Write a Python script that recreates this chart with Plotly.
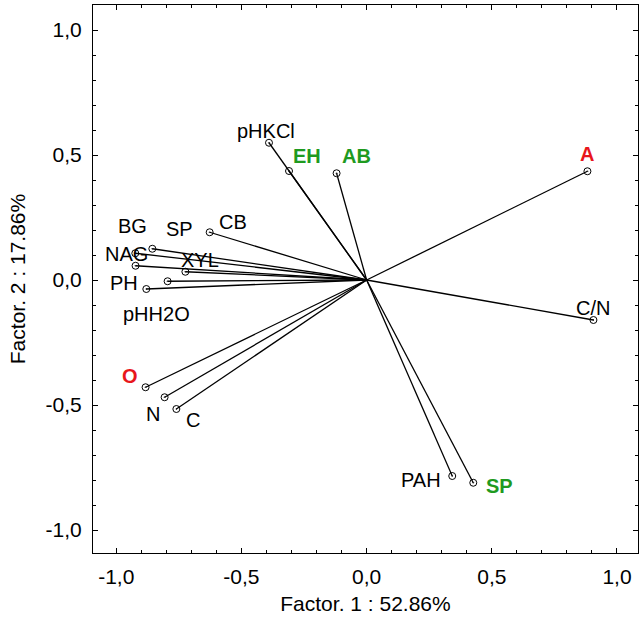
import plotly.graph_objects as go

# factor loadings
names = ["pHKCl", "EH", "AB", "CB", "SP", "BG", "NAG", "XYL", "PH", "pHH2O",
         "O", "N", "C", "A", "C/N", "PAH", "SP "]
factor1 = [-0.390, -0.310, -0.120, -0.627, -0.856, -0.924, -0.923, -0.724, -0.795, -0.880,
           -0.883, -0.807, -0.760, 0.882, 0.906, 0.342, 0.426]
factor2 = [0.549, 0.436, 0.427, 0.191, 0.125, 0.107, 0.057, 0.033, -0.005, -0.036,
           -0.429, -0.469, -0.516, 0.435, -0.160, -0.784, -0.811]
groups = ["var", "soil", "soil", "var", "var", "var", "var", "var", "var", "var",
          "hor", "var", "var", "hor", "var", "var", "soil"]

tick_vals = [-1.0, -0.5, 0.0, 0.5, 1.0]
tick_text = ["-1,0", "-0,5", "0,0", "0,5", "1,0"]

# label offsets in pixels (dx right, dy down) and colours
label_offsets = {
    "pHKCl": (-3, -12), "EH": (18, -15), "AB": (20, -17), "CB": (23, -10),
    "SP": (27, -20), "BG": (-3, -27), "NAG": (-9, -12), "XYL": (15, -12),
    "PH": (-44, 2), "pHH2O": (10, 25), "O": (-16, -11), "N": (-12, 17),
    "C": (17, 11), "A": (0, -17), "C/N": (0, -12), "PAH": (-31, 4), "SP ": (26, 3),
}
colors = {"var": "black", "soil": "#1f9a1f", "hor": "#e8161b"}

FONT = "Liberation Sans, Arial, sans-serif"

line_x, line_y = [], []
for x, y in zip(factor1, factor2):
    line_x += [0, x, None]
    line_y += [0, y, None]

fig = go.Figure()
fig.add_trace(go.Scatter(
    x=line_x, y=line_y, mode="lines",
    line=dict(color="black", width=1.3), hoverinfo="skip",
))
fig.add_trace(go.Scatter(
    x=factor1, y=factor2, mode="markers", text=names,
    marker=dict(symbol="circle-open-dot", size=7, color="black",
                line=dict(width=1, color="black")),
))

for n, x, y, g in zip(names, factor1, factor2, groups):
    dx, dy = label_offsets[n]
    fig.add_annotation(
        x=x, y=y, text=n.strip() if g == "var" else "<b>%s</b>" % n.strip(),
        showarrow=False, xshift=dx, yshift=-dy,
        font=dict(family=FONT, size=20, color=colors[g]),
    )

axis_common = dict(
    showgrid=False, zeroline=False, showline=True, linecolor="black", linewidth=1,
    mirror="ticks", ticks="inside", ticklen=5, tickcolor="black",
    tickmode="array", tickvals=tick_vals, ticktext=tick_text,
    minor=dict(ticks="inside", ticklen=3, tickmode="linear", tick0=0, dtick=0.1,
               tickcolor="black"),
    tickfont=dict(family=FONT, size=21, color="black"),
)

fig.update_xaxes(range=[-1.093, 1.084], ticklabelstandoff=5,
                 title=dict(text="Factor. 1 : 52.86%", standoff=9,
                            font=dict(family=FONT, size=21, color="black")),
                 **axis_common)
fig.update_yaxes(range=[-1.092, 1.1], ticklabelstandoff=6,
                 title=dict(text="Factor. 2 : 17.86%", standoff=14,
                            font=dict(family=FONT, size=21, color="black")),
                 **axis_common)

fig.update_layout(
    width=644, height=625,
    margin=dict(l=93, r=6, t=5, b=72, autoexpand=False),
    plot_bgcolor="white", paper_bgcolor="white",
    showlegend=False,
)

fig.write_html("out.html", config={"displayModeBar": False},
               post_script="document.body.style.margin='0';"
                           "document.body.style.overflow='hidden';")
